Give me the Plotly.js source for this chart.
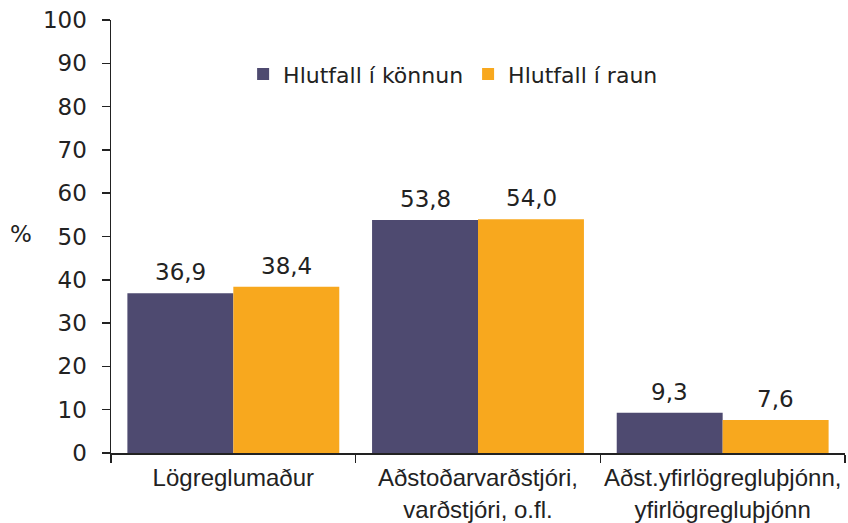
<!DOCTYPE html>
<html>
<head>
<meta charset="utf-8">
<script src="https://cdn.plot.ly/plotly-3.0.1.min.js"></script>
<style>html,body{margin:0;padding:0;background:#fff;}#chart{width:848px;height:523px;}</style>
</head>
<body>
<div id="chart"></div>
<script>
const categories = ["Lögreglumaður", "Aðstoðarvarðstjóri,<br>varðstjóri, o.fl.", "Aðst.yfirlögregluþjónn,<br>yfirlögregluþjónn"];
const seriesNames = ["Hlutfall í könnun", "Hlutfall í raun"];
const konnun = [36.9, 53.8, 9.3];
const raun = [38.4, 54.0, 7.6];
const yTicks = [0, 10, 20, 30, 40, 50, 60, 70, 80, 90, 100];

const fmt = v => v.toFixed(1).replace('.', ',');
const numFont = {family: "DejaVu Sans, Verdana, sans-serif", size: 23, color: "#222"};

const traces = [
  {type: "bar", name: seriesNames[0], x: categories, y: konnun, marker: {color: "#4E4A70"}},
  {type: "bar", name: seriesNames[1], x: categories, y: raun, marker: {color: "#F8A81E"}}
];

const annotations = [];
[konnun, raun].forEach((vals, s) => {
  vals.forEach((v, i) => {
    annotations.push({x: categories[i], y: v, xref: "x", yref: "y", text: fmt(v),
      showarrow: false, xanchor: "center", yanchor: "bottom",
      xshift: s === 0 ? -53 : 53, yshift: 6, font: numFont});
  });
});
annotations.push({text: "%", xref: "paper", yref: "paper", x: -0.123, y: 0.505, showarrow: false,
  xanchor: "center", yanchor: "middle", font: numFont});

const layout = {
  width: 848, height: 523,
  margin: {l: 111, r: 3, t: 20, b: 70},
  paper_bgcolor: "#fff", plot_bgcolor: "#fff",
  barmode: "group", bargap: 0.134, bargroupgap: 0,
  showlegend: true,
  legend: {orientation: "h", x: 0.18, y: 0.875, xanchor: "left", yanchor: "middle",
    font: {family: "DejaVu Sans, Verdana, sans-serif", size: 22, color: "#222"},
    itemwidth: 30, tracegroupgap: 0, bgcolor: "rgba(0,0,0,0)"},
  xaxis: {type: "category", showline: true, linecolor: "#222", linewidth: 1.5,
    ticks: "outside", tickson: "boundaries", ticklen: 8, tickcolor: "#222", tickwidth: 1.5,
    ticklabelstandoff: 3, tickangle: 0, automargin: false,
    tickfont: {family: "Liberation Sans, Arial, sans-serif", size: 24, color: "#222"},
    showgrid: false, zeroline: false, fixedrange: true},
  yaxis: {range: [0, 100], tickvals: yTicks, ticktext: yTicks.map(String),
    showline: true, linecolor: "#222", linewidth: 1.5,
    ticks: "outside", ticklen: 8, tickcolor: "#222", tickwidth: 1.5,
    ticklabelstandoff: 10,
    tickfont: numFont, showgrid: false, zeroline: false, fixedrange: true},
  annotations: annotations
};

Plotly.newPlot("chart", traces, layout, {displayModeBar: false, staticPlot: true});
</script>
</body>
</html>
